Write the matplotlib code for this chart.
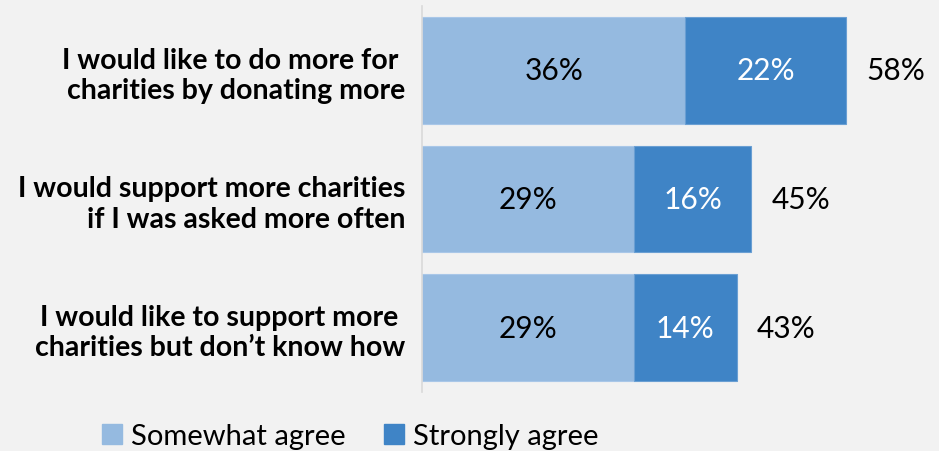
import matplotlib
matplotlib.use("Agg")
import matplotlib.pyplot as plt
from matplotlib.patches import Patch

categories = [
    "I would like to do more for \ncharities by donating more",
    "I would support more charities\nif I was asked more often",
    "I would like to support more \ncharities but don\u2019t know how",
]
somewhat = [36, 29, 29]
strongly = [22, 16, 14]
series_names = ["Somewhat agree", "Strongly agree"]

light = "#95bae0"
dark = "#3f84c6"
bg = "#f2f2f2"

plt.rcParams['font.family'] = ['Lato', 'DejaVu Sans']

fig = plt.figure(figsize=(9.39, 4.52), dpi=100, facecolor=bg)
ax = fig.add_axes([422/939, (452-393)/452, 512/939, 386/452])
ax.set_facecolor(bg)

y = list(range(len(categories)))
h = 0.83
ax.barh(y, somewhat, height=h, color=light, edgecolor="#a9c7e8", linewidth=0.8)
ax.barh(y, strongly, left=somewhat, height=h, color=dark, edgecolor="#6a9fd3", linewidth=0.8)

fs = 21.5
for i in y:
    ax.text(somewhat[i]/2, i, f"{somewhat[i]}%", ha="center", va="center", fontsize=fs, color="black")
    ax.text(somewhat[i] + strongly[i]/2, i, f"{strongly[i]}%", ha="center", va="center", fontsize=fs, color="white")
    tot = somewhat[i] + strongly[i]
    ax.text(tot + 2.8, i, f"{tot}%", ha="left", va="center", fontsize=fs, color="black")

ax.set_xlim(0, 70)
ax.set_ylim(2.5, -0.5)
ax.set_yticks(y)
ax.set_yticklabels(categories, fontsize=20.5, fontweight="bold", linespacing=1.2)
ax.tick_params(axis="y", length=0, pad=12)
ax.set_xticks([])
for s in ["top", "right", "bottom"]:
    ax.spines[s].set_visible(False)
ax.spines["left"].set_color("#d9d9d9")
ax.spines["left"].set_linewidth(1.2)

handles = [Patch(facecolor=light, edgecolor=light), Patch(facecolor=dark, edgecolor=dark)]
fig.legend(handles, series_names, loc="center left", bbox_to_anchor=(102/939, 1-437/452),
           ncol=2, frameon=False, fontsize=21, handlelength=0.7, handleheight=0.7,
           handletextpad=0.3, columnspacing=1.3, borderaxespad=0, borderpad=0)

fig.savefig("out.png", dpi=100, facecolor=bg)
